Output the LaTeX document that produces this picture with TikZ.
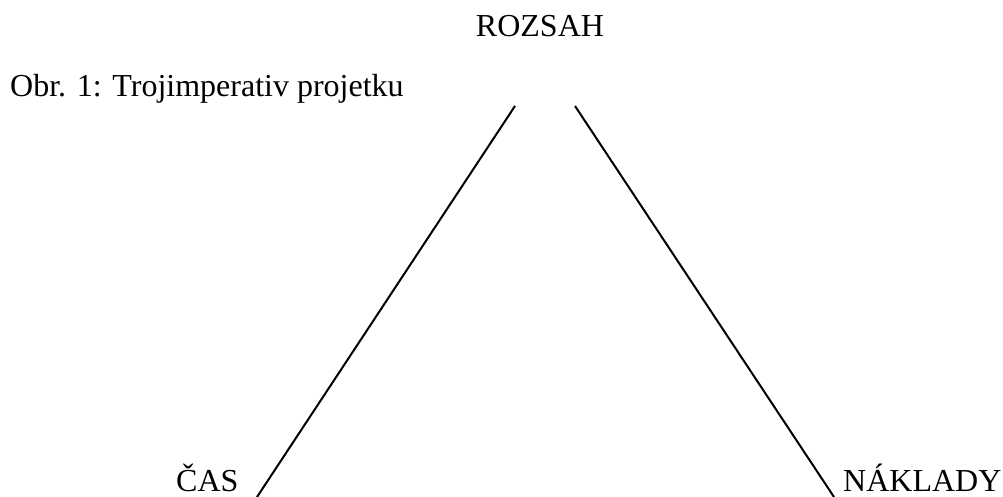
\documentclass[tikz,border=0pt]{standalone}
\usepackage{fontspec}
\setmainfont{Liberation Serif}
\usetikzlibrary{positioning}

\begin{document}
\begin{tikzpicture}[x=1pt, y=-1pt,
  lbl/.style={inner sep=0pt, font=\fontsize{32}{38}\selectfont},
  side/.style={line width=2pt}]
  \useasboundingbox (0,0) rectangle (1003,497);
  \node[lbl, anchor=base] (rozsah) at (540,37) {ROZSAH};
  \node[lbl, anchor=base west] (obr) at (10,97) {Obr. 1: Trojimperativ projetku};
  \node[lbl, anchor=base west] (cas) at (176,491) {ČAS};
  \node[lbl, anchor=base west] (naklady) at (843,491) {NÁKLADY};
  \coordinate (topl) at (515,106);
  \coordinate (topr) at (575,106);
  \coordinate (botl) at (257,497);
  \coordinate (botr) at (834,497);
  \draw[side] (topl)--(botl);
  \draw[side] (topr)--(botr);
\end{tikzpicture}
\end{document}
